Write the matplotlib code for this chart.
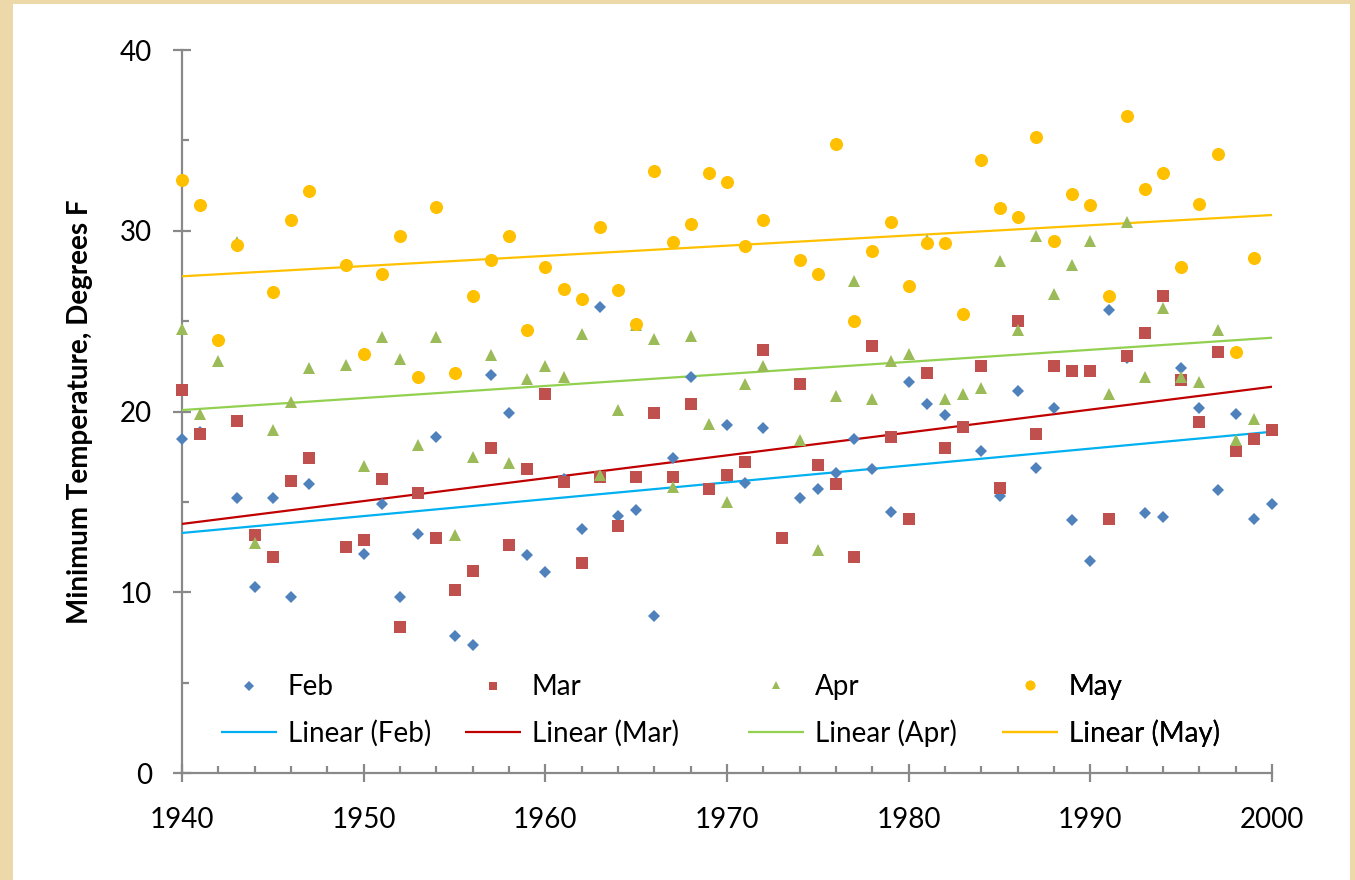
import numpy as np
import matplotlib
matplotlib.use("Agg")
import matplotlib.pyplot as plt
from matplotlib.patches import Rectangle
from matplotlib.ticker import MultipleLocator

plt.rcParams['font.family'] = ['Lato', 'DejaVu Sans']

N = np.nan
years = list(range(1940, 2001))

feb = [18.48, 18.85, N, 15.2, 10.27, 15.2, 9.74, 16.0, N, N,
       12.1, 14.9, 9.72, 13.2, 18.6, 7.58, 7.06, 22.0, 19.9, 12.08,
       11.1, 16.26, 13.48, 25.8, 14.23, 14.55, 8.67, 17.45, 21.9, N,
       19.25, 16.06, 19.1, N, 15.23, 15.7, 16.6, 18.5, 16.83, 14.44,
       21.65, 20.4, 19.8, N, 17.8, 15.3, 21.15, 16.9, 20.17, 14.0,
       11.75, 25.6, 22.95, 14.38, 14.16, 22.4, 20.2, 15.63, 19.87, 14.05,
       14.9]

mar = [21.2, 18.75, N, 19.5, 13.15, 11.97, 16.15, 17.45, N, 12.5,
       12.9, 16.27, 8.06, 15.5, 13.0, 10.14, 11.2, 17.98, 12.6, 16.8,
       20.95, 16.1, 11.6, 16.4, 13.67, 16.4, 19.9, 16.4, 20.4, 15.73,
       16.5, 17.2, 23.4, 13.0, 21.5, 17.06, 16.0, 11.97, 23.6, 18.6,
       14.07, 22.15, 17.98, 19.14, 22.5, 15.74, 25.0, 18.75, 22.5, 22.25,
       22.25, 14.07, 23.05, 24.36, 26.4, 21.75, 19.4, 23.3, 17.84, 18.48,
       19.0]

apr = [24.55, 19.86, 22.8, 29.4, 12.7, 19.0, 20.5, 22.4, N, 22.6,
       16.98, 24.1, 22.9, 18.15, 24.1, 13.17, 17.5, 23.1, 17.17, 21.8,
       22.5, 21.9, 24.3, 16.5, 20.1, 24.8, 24.0, 15.8, 24.2, 19.3,
       15.0, 21.5, 22.5, N, 18.4, 12.34, 20.86, 27.2, 20.7, 22.8,
       23.2, 29.5, 20.67, 20.95, 21.3, 28.3, 24.5, 29.7, 26.5, 28.1,
       29.46, 20.95, 30.46, 21.9, 25.7, 21.9, 21.65, 24.5, 18.42, 19.58,
       N]

may = [32.8, 31.4, 23.96, 29.2, N, 26.6, 30.6, 32.2, N, 28.1,
       23.2, 27.6, 29.7, 21.9, 31.3, 22.15, 26.4, 28.4, 29.7, 24.5,
       28.0, 26.8, 26.2, 30.2, 26.7, 24.86, 33.3, 29.4, 30.35, 33.2,
       32.7, 29.17, 30.6, N, 28.4, 27.6, 34.8, 25.0, 28.9, 30.5,
       26.96, 29.3, 29.3, 25.4, 33.9, 31.26, 30.74, 35.2, 29.43, 32.03,
       31.4, 26.4, 36.35, 32.3, 33.2, 28.0, 31.5, 34.26, 23.3, 28.5,
       N]

# Linear trendline values at 1940 and 2000
trend_years = [1940, 2000]
trend_feb = [13.28, 18.88]
trend_mar = [13.78, 21.37]
trend_apr = [20.08, 24.08]
trend_may = [27.48, 30.87]

series_names = ['Feb', 'Mar', 'Apr', 'May']
series_vals = [feb, mar, apr, may]
trend_vals = [trend_feb, trend_mar, trend_apr, trend_may]
marker_colors = ['#4F81BD', '#C0504D', '#9BBB59', '#FFC000']
trend_colors = ['#00B0F0', '#C00000', '#92D050', '#FFC000']
markers = ['D', 's', '^', 'o']
msizes = [6.2, 8.0, 8.6, 9.4]

fig = plt.figure(figsize=(13.55, 8.8), dpi=100)
fig.patch.set_facecolor('#ECD8A8')
fig.patches.append(Rectangle((13 / 1355, 0), (1350 - 13) / 1355, (880 - 4) / 880,
                             transform=fig.transFigure, facecolor='white',
                             edgecolor='none', zorder=-1))

ax = fig.add_axes([182 / 1355, (880 - 773) / 880, 1090 / 1355, 723 / 880])
ax.set_facecolor('white')

x = np.array(years, dtype=float)
pt_handles = []
ln_handles = []
for name, vals, mc, mk, ms in zip(series_names, series_vals, marker_colors,
                                   markers, msizes):
    h, = ax.plot(x, np.array(vals, dtype=float), linestyle='none', marker=mk,
                 markersize=ms, color=mc, markeredgewidth=0, clip_on=False,
                 zorder=4)
    pt_handles.append(h)

for name, tv, tc in zip(series_names, trend_vals, trend_colors):
    l, = ax.plot(trend_years, tv, color=tc, linewidth=1.6, zorder=3,
                 solid_capstyle='butt')
    ln_handles.append(l)

ax.set_xlim(1940, 2000)
ax.set_ylim(0, 40)
ax.xaxis.set_major_locator(MultipleLocator(10))
ax.xaxis.set_minor_locator(MultipleLocator(2))
ax.yaxis.set_major_locator(MultipleLocator(10))
ax.yaxis.set_minor_locator(MultipleLocator(5))

for s in ['top', 'right']:
    ax.spines[s].set_visible(False)
for s in ['left', 'bottom']:
    ax.spines[s].set_color('#898989')
    ax.spines[s].set_linewidth(1.6)

ax.tick_params(axis='both', which='major', direction='inout', length=13,
               width=1.6, color='#898989', labelsize=20, labelcolor='black')
ax.tick_params(axis='y', which='major', pad=15)
ax.tick_params(axis='x', which='major', pad=18)
ax.tick_params(axis='both', which='minor', direction='in', length=5,
               width=1.6, color='#898989')

ax.set_ylabel('Minimum Temperature, Degrees F', fontsize=20, fontweight='bold')
ax.yaxis.set_label_coords((93 - 182) / 1090, 0.5)

leg_x = [(221 - 182) / 1090, (465 - 182) / 1090, (748 - 182) / 1090, (1002 - 182) / 1090]
ymid = (773 - 710.5) / 723
for i in range(4):
    leg = ax.legend([pt_handles[i], ln_handles[i]],
                    [series_names[i], 'Linear (%s)' % series_names[i]],
                    loc='center left', bbox_to_anchor=(leg_x[i], ymid),
                    frameon=False, fontsize=20, handlelength=2.0,
                    handletextpad=0.4, labelspacing=0.7, borderpad=0,
                    borderaxespad=0, markerscale=0.75)
    ax.add_artist(leg)

fig.savefig('out.png', dpi=100, facecolor=fig.get_facecolor())
